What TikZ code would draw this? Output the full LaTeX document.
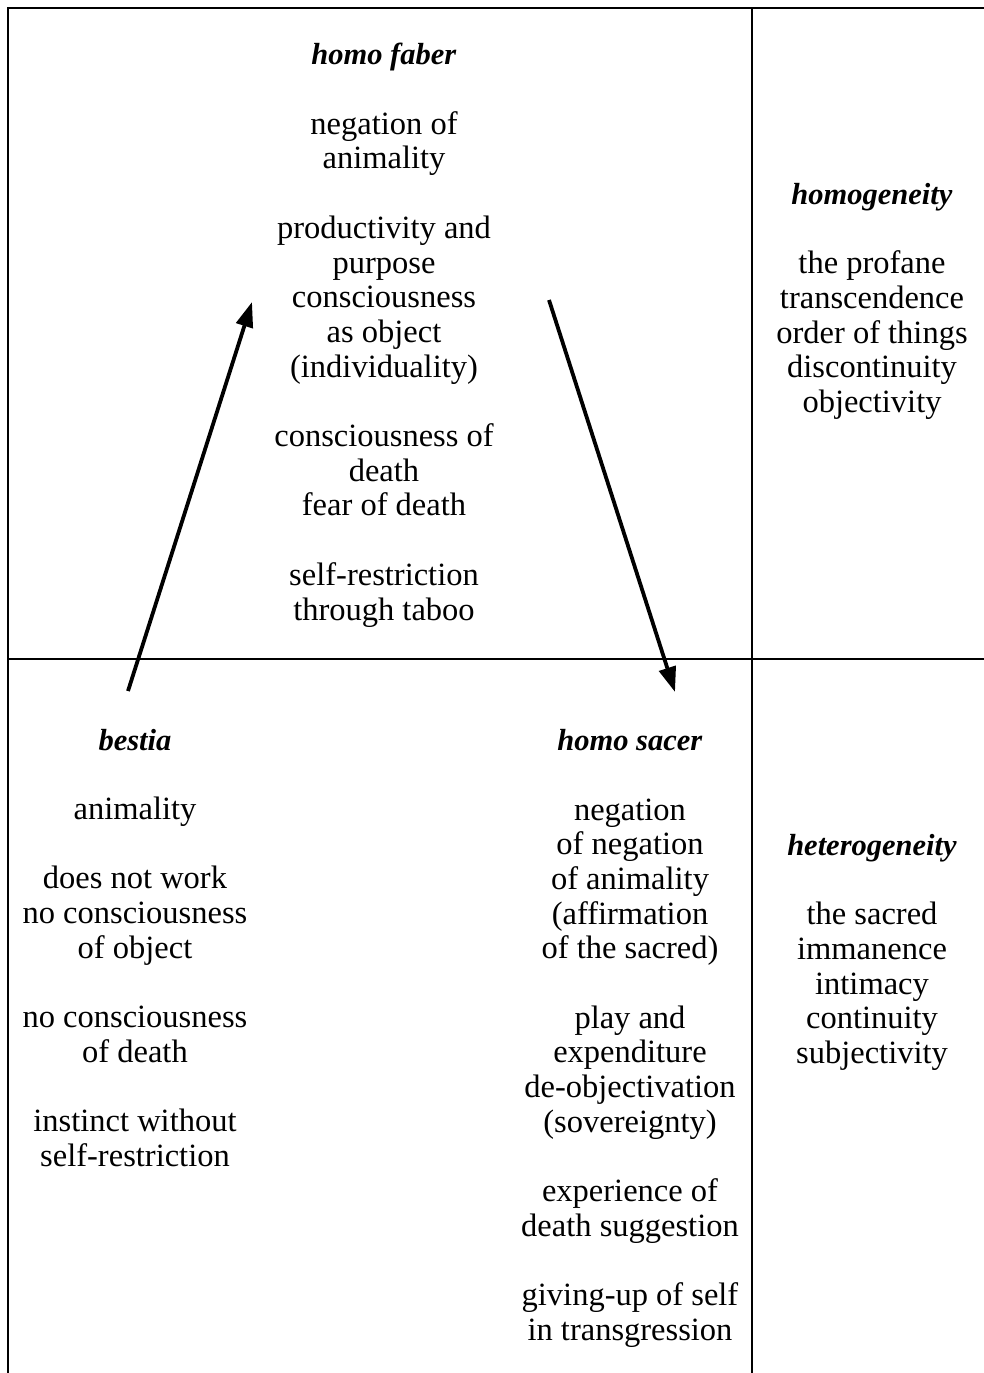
\documentclass[tikz,border=0pt]{standalone}
\usepackage{fontspec}
\setmainfont{Liberation Serif}
\usetikzlibrary{arrows.meta}
\newcommand{\hd}[1]{{\fontsize{30.5}{34.7}\selectfont\textbf{\textit{#1}}}}
\newcommand{\gap}{\\[34.7pt]}
\begin{document}
\begin{tikzpicture}[x=1pt,y=-1pt,
  frameline/.style={line width=2pt,line cap=rect},
  gridline/.style={line width=1.6pt},
  col/.style={align=center,inner sep=0pt,anchor=base,font=\fontsize{32.5}{34.7}\selectfont},
  bigarrow/.style={line width=3.8pt,-{Triangle[length=25pt,width=17pt]}}]
\useasboundingbox (0,0) rectangle (984,1373);
\draw[frameline] (984,8) -- (8,8) -- (8,1373);
\draw[gridline] (8,659) -- (984,659);
\draw[gridline] (752,8) -- (752,1373);

% anchor=base is the baseline of the last line of each column
\node[col] (faber) at (384,620) {\hd{homo faber}\gap
negation of\\ animality\gap
productivity and\\ purpose\\ consciousness\\ as object\\ (individuality)\gap
consciousness of\\ death\\ fear of death\gap
self-restriction\\ through taboo};

\node[col] (homog) at (872,412.5) {\hd{homogeneity}\gap
the profane\\ transcendence\\ order of things\\ discontinuity\\ objectivity};

\node[col] (bestia) at (135,1166.5) {\hd{bestia}\gap
animality\gap
does not work\\ no consciousness\\ of object\gap
no consciousness\\ of death\gap
instinct without\\ self-restriction};

\node[col] (sacer) at (630,1340.5) {\hd{homo sacer}\gap
negation\\ of negation\\ of animality\\ (affirmation\\ of the sacred)\gap
play and\\ expenditure\\ de-objectivation\\ (sovereignty)\gap
experience of\\ death suggestion\gap
giving-up of self\\ in transgression};

\node[col] (heterog) at (872,1063.5) {\hd{heterogeneity}\gap
the sacred\\ immanence\\ intimacy\\ continuity\\ subjectivity};

\coordinate (a1s) at (128,691);
\coordinate (a1e) at (252,302);
\coordinate (a2s) at (549,300);
\coordinate (a2e) at (675,692);
\draw[bigarrow] (a1s) -- (a1e);
\draw[bigarrow] (a2s) -- (a2e);
\end{tikzpicture}
\end{document}
